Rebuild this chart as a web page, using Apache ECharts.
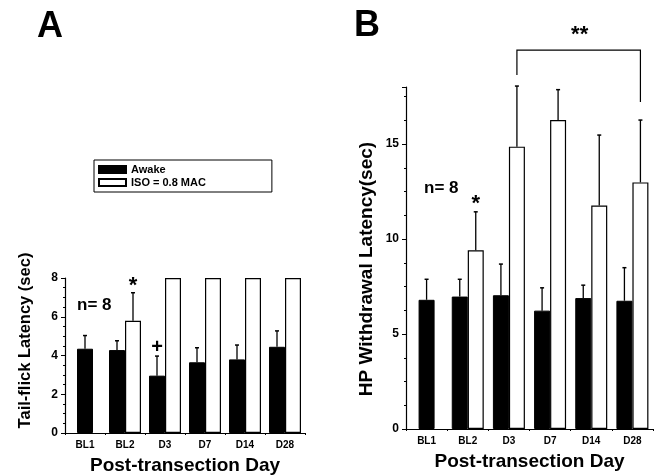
<!DOCTYPE html>
<html><head><meta charset="utf-8">
<script src="https://cdn.jsdelivr.net/npm/echarts@6/dist/echarts.min.js"></script>
<style>html,body{margin:0;padding:0;background:#fff}#c{width:660px;height:476px}</style>
</head><body><div id="c"></div>
<script>
// ---- data ----
const categories = ['BL1', 'BL2', 'D3', 'D7', 'D14', 'D28'];
const seriesNames = ['Awake', 'ISO = 0.8 MAC'];
const tailAwake = [4.35, 4.28, 2.96, 3.65, 3.80, 4.45];
const tailAwakeErr = [0.68, 0.48, 1.01, 0.75, 0.74, 0.82];
const tailIso = [null, 5.79, 8, 8, 8, 8];
const tailIsoErr = [null, 1.45, 0, 0, 0, 0];
const hpAwake = [6.80, 6.97, 7.04, 6.23, 6.89, 6.75];
const hpAwakeErr = [1.08, 0.91, 1.64, 1.20, 0.68, 1.74];
const hpIso = [null, 9.41, 14.86, 16.26, 11.76, 12.98];
const hpIsoErr = [null, 2.02, 3.19, 1.60, 3.71, 3.28];
const tailTicks = { min: 0, max: 8, interval: 2 };
const hpTicks = { min: 0, max: 18, interval: 5 };

// ---- helpers ----
const FONT = 'Liberation Sans, Arial, sans-serif';
const BW = 16;
const chart = echarts.init(document.getElementById('c'));

function pairOnly(a, iso) { return a.map((v, i) => iso[i] == null ? null : v); }
function singleOnly(a, iso) { return a.map((v, i) => iso[i] == null ? v : null); }

function errData(vals, errs, iso, side) {
  const out = [];
  vals.forEach((v, i) => {
    if (v == null || errs[i] == null || errs[i] === 0) return;
    const s = side === 'awake' ? (iso[i] == null ? 0 : -1) : 1;
    out.push([i, v, errs[i], s]);
  });
  return out;
}
function errSeries(name, xi, yi, data) {
  return {
    type: 'custom', name: name, xAxisIndex: xi, yAxisIndex: yi, z: 5,
    data: data, encode: { x: 0, y: 1 }, silent: true,
    renderItem: function (params, api) {
      const i = api.value(0), v = api.value(1), e = api.value(2), s = api.value(3);
      const p0 = api.coord([i, v]);
      const p1 = api.coord([i, v + e]);
      const x = p0[0] + s * BW / 2;
      return {
        type: 'group', children: [
          { type: 'line', shape: { x1: x, y1: p0[1], x2: x, y2: p1[1] }, style: { stroke: '#000', lineWidth: 1.3 } },
          { type: 'line', shape: { x1: x - 2, y1: p1[1], x2: x + 2, y2: p1[1] }, style: { stroke: '#000', lineWidth: 1.5 } }
        ]
      };
    }
  };
}

const axisLineS = { lineStyle: { color: '#000', width: 1.2 } };
function xMain(grid) {
  return {
    type: 'category', gridIndex: grid, data: categories, position: 'bottom',
    axisLine: axisLineS,
    axisTick: { alignWithLabel: true, length: 4, lineStyle: { color: '#000' } },
    axisLabel: { color: '#000', fontFamily: FONT, fontWeight: 'bold', fontSize: 10, margin: 7 },
    name: 'Post-transection Day', nameLocation: 'middle', nameGap: 23,
    nameTextStyle: { color: '#000', fontFamily: FONT, fontWeight: 'bold', fontSize: 19 }
  };
}
function xHidden(grid) {
  return {
    type: 'category', gridIndex: grid, data: categories, position: 'bottom',
    axisLine: { show: false }, axisLabel: { show: false },
    axisTick: { show: true, length: 2, lineStyle: { color: '#000' } }
  };
}
function yAxis(grid, t, name, gap, size, pad) {
  return {
    type: 'value', gridIndex: grid, min: t.min, max: t.max, interval: t.interval,
    axisLine: { show: true, lineStyle: { color: '#000', width: 1.2 } },
    axisTick: { show: true, length: 4, lineStyle: { color: '#000' } },
    minorTick: { show: true, splitNumber: 4, length: 2, lineStyle: { color: '#000' } },
    splitLine: { show: false },
    axisLabel: {
      color: '#000', fontFamily: FONT, fontWeight: 'bold', fontSize: 12, margin: 7,
      formatter: v => (v % t.interval === 0 ? String(v) : '')
    },
    name: name, nameLocation: 'middle', nameGap: gap, nameRotate: 90,
    nameTextStyle: { color: '#000', fontFamily: FONT, fontWeight: 'bold', fontSize: size, padding: pad }
  };
}
const blackStyle = { color: '#000', borderColor: '#000', borderWidth: 1 };
const whiteStyle = { color: '#fff', borderColor: '#000', borderWidth: 1.2 };

function bars(xi, xh, yi, awake, iso) {
  return [
    { type: 'bar', name: seriesNames[0], xAxisIndex: xi, yAxisIndex: yi, data: pairOnly(awake, iso), barWidth: BW, barGap: '0%', itemStyle: blackStyle },
    { type: 'bar', name: seriesNames[1], xAxisIndex: xi, yAxisIndex: yi, data: iso, barWidth: BW, barGap: '0%', itemStyle: whiteStyle },
    { type: 'bar', name: seriesNames[0], xAxisIndex: xh, yAxisIndex: yi, data: singleOnly(awake, iso), barWidth: BW, itemStyle: blackStyle }
  ];
}

const option = {
  animation: false,
  backgroundColor: '#fff',
  grid: [
    { left: 65, right: 355, top: 278, bottom: 43 },
    { left: 406, right: 7, top: 87, bottom: 45 }
  ],
  xAxis: [xMain(0), xHidden(0), xMain(1), xHidden(1)],
  yAxis: [
    yAxis(0, tailTicks, 'Tail-flick Latency (sec)', 31, 16.5, [0, 0, 0, 30]),
    yAxis(1, hpTicks, 'HP Withdrawal Latency(sec)', 30, 19, [0, 22, 0, 0])
  ],
  legend: {
    data: seriesNames, orient: 'vertical', left: 94, top: 160,
    itemWidth: 27, itemHeight: 7, itemGap: 2, icon: 'rect',
    padding: [4, 66, 4, 4], borderColor: '#000', borderWidth: 1,
    textStyle: { color: '#000', fontFamily: FONT, fontWeight: 'bold', fontSize: 11 }
  },
  series: [].concat(
    bars(0, 1, 0, tailAwake, tailIso),
    bars(2, 3, 1, hpAwake, hpIso),
    [
      errSeries('errA1', 0, 0, errData(tailAwake, tailAwakeErr, tailIso, 'awake')),
      errSeries('errA2', 0, 0, errData(tailIso, tailIsoErr, tailIso, 'iso')),
      errSeries('errB1', 2, 1, errData(hpAwake, hpAwakeErr, hpIso, 'awake')),
      errSeries('errB2', 2, 1, errData(hpIso, hpIsoErr, hpIso, 'iso'))
    ]
  )
};
chart.setOption(option);

// ---- annotations anchored to data ----
function px(panel, cat, val) {
  const f = panel === 0 ? { xAxisIndex: 0, yAxisIndex: 0 } : { xAxisIndex: 2, yAxisIndex: 1 };
  return chart.convertToPixel(f, [cat, val]);
}
function txt(x, y, s, size, align) {
  return { type: 'text', x: x, y: y, style: { text: s, fill: '#000', font: 'bold ' + size + 'px ' + FONT, textAlign: align || 'center', textVerticalAlign: 'middle' } };
}
const g = [];
g.push(txt(37, 27, 'A', 36, 'left'));
g.push(txt(354, 26, 'B', 36, 'left'));
g.push(txt(77, 305, 'n= 8', 17, 'left'));
g.push(txt(424, 188, 'n= 8', 17, 'left'));
// stars / plus
let p = px(0, 1, tailIso[1] + tailIsoErr[1]);
g.push(txt(p[0] + BW / 2, p[1] - 7, '*', 22));
p = px(0, 2, tailAwake[2] + tailAwakeErr[2]);
g.push(txt(p[0] - BW / 2, p[1] - 9, '+', 20));
p = px(1, 1, hpIso[1] + hpIsoErr[1]);
g.push(txt(p[0] + BW / 2, p[1] - 8, '*', 22));
// bracket D3 -> D28 (ISO bars)
const bl = px(1, 2, hpIso[2] + hpIsoErr[2]);
const br = px(1, 5, hpIso[5] + hpIsoErr[5]);
const yTop = bl[1] - 36;
g.push({ type: 'polyline', shape: { points: [[bl[0] + BW / 2, bl[1] - 11], [bl[0] + BW / 2, yTop], [br[0] + BW / 2, yTop], [br[0] + BW / 2, br[1] - 18]] }, style: { stroke: '#000', lineWidth: 1.2, fill: null } });
g.push(txt((bl[0] + br[0]) / 2 + BW / 2 + 1, yTop - 15, '**', 22));
chart.setOption({ graphic: g });
</script>
</body></html>
